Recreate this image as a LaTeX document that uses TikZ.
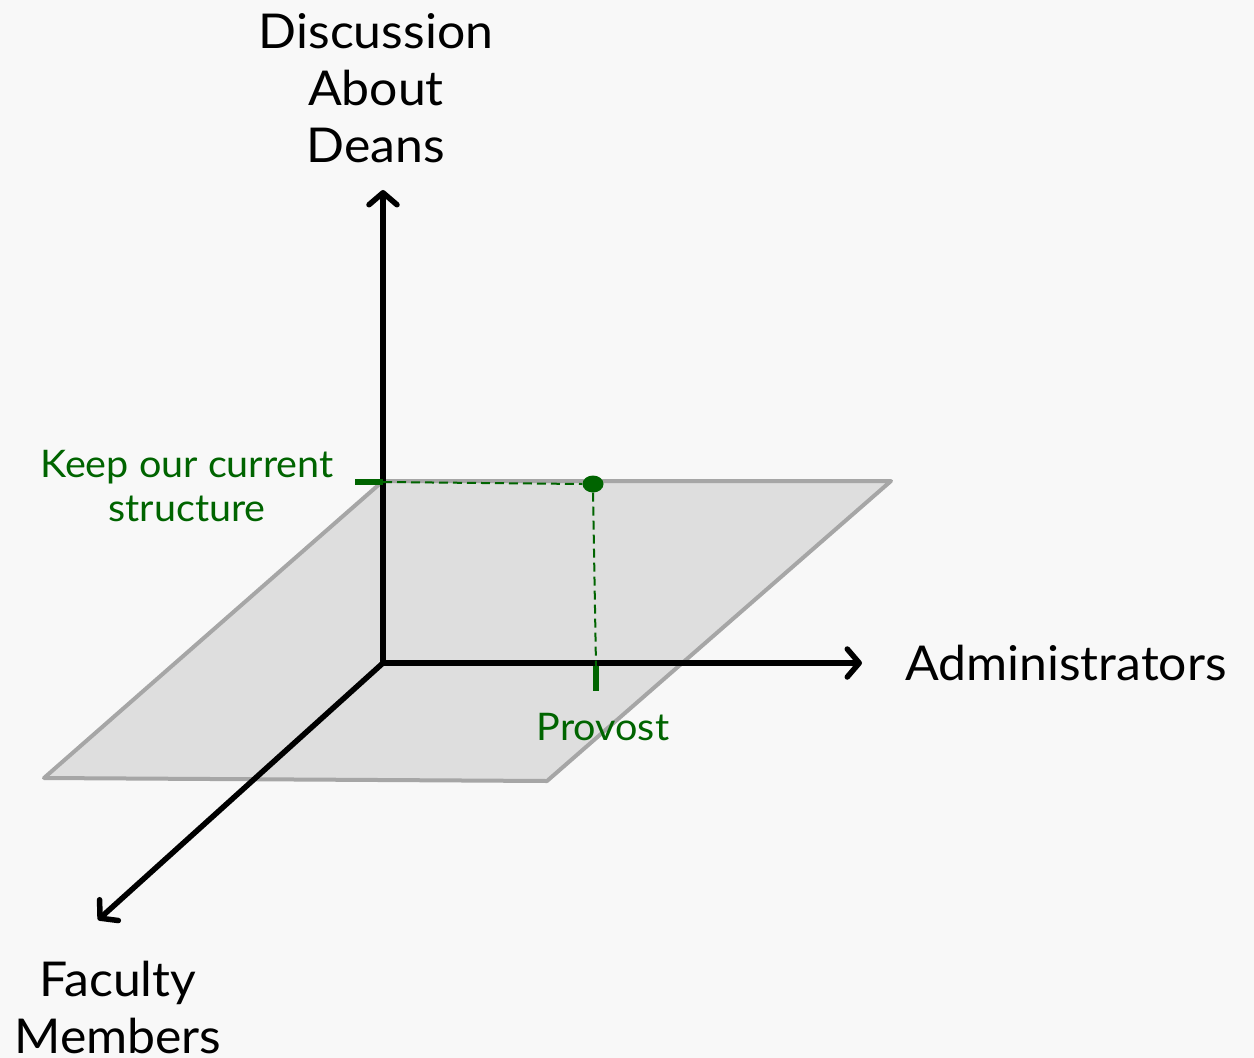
\documentclass[tikz,border=0pt]{standalone}
\usepackage{fontspec}
\setmainfont{Lato}[FakeStretch=1.04]
\usetikzlibrary{arrows.meta,shapes.geometric}
\definecolor{bg}{HTML}{F8F8F8}
\definecolor{planefill}{HTML}{DEDEDE}
\definecolor{planeedge}{HTML}{A6A6A6}
\definecolor{dgreen}{HTML}{006400}
\tikzset{
  axis/.style={line width=5.5pt, line cap=round, -{Straight Barb[length=12pt,width=28pt,round]}},
  plane/.style={fill=planefill, draw=planeedge, line width=4pt, line join=round},
  guide/.style={dgreen, line width=2pt, dash pattern=on 9pt off 5pt},
  tickmark/.style={dgreen, line width=6pt},
  biglabel/.style={font=\fontsize{48}{57}\selectfont, align=center, inner sep=0pt},
  greenlabel/.style={dgreen, font=\fontsize{38}{44}\selectfont, align=center, inner sep=0pt}
}
\begin{document}
\begin{tikzpicture}[x=1pt,y=-1pt]
\useasboundingbox (0,0) rectangle (1254,1058);
\fill[bg] (0,0) rectangle (1254,1058);
% plane
\coordinate (P1) at (383,481);
\coordinate (P2) at (891,481);
\coordinate (P3) at (547,781);
\coordinate (P4) at (44,778);
\draw[plane] (P1) -- (P2) -- (P3) -- (P4) -- cycle;
% axes
\coordinate (O) at (383,663);
\coordinate (Z) at (383,190);
\coordinate (X) at (862,663);
\coordinate (Y) at (98,920);
\draw[axis] (O) -- (Z);
\draw[axis] (O) -- (X);
\draw[axis] (O) -- (Y);
% green guides
\coordinate (ZT) at (383,482);
\coordinate (ZT0) at (355,482);
\coordinate (XT) at (596,666);
\coordinate (XT0) at (596,691);
\node[dgreen, fill, ellipse, minimum width=21pt, minimum height=17pt, inner sep=0pt] (pt) at (593,484) {};
\draw[guide] (ZT) -- (pt.west);
\draw[guide] (pt.south) -- (XT);
\draw[tickmark] (ZT0) -- (ZT);
\draw[tickmark] (XT) -- (XT0);
% labels
\node[biglabel] (lz) at (376,88) {Discussion\\About\\Deans};
\node[biglabel, anchor=west] (lx) at (905,663) {Administrators};
\node[biglabel] (ly) at (118,1008) {Faculty\\Members};
\node[greenlabel] (lk) at (187,486) {Keep our current\\structure};
\node[greenlabel] (lp) at (603,727) {Provost};
\end{tikzpicture}
\end{document}
